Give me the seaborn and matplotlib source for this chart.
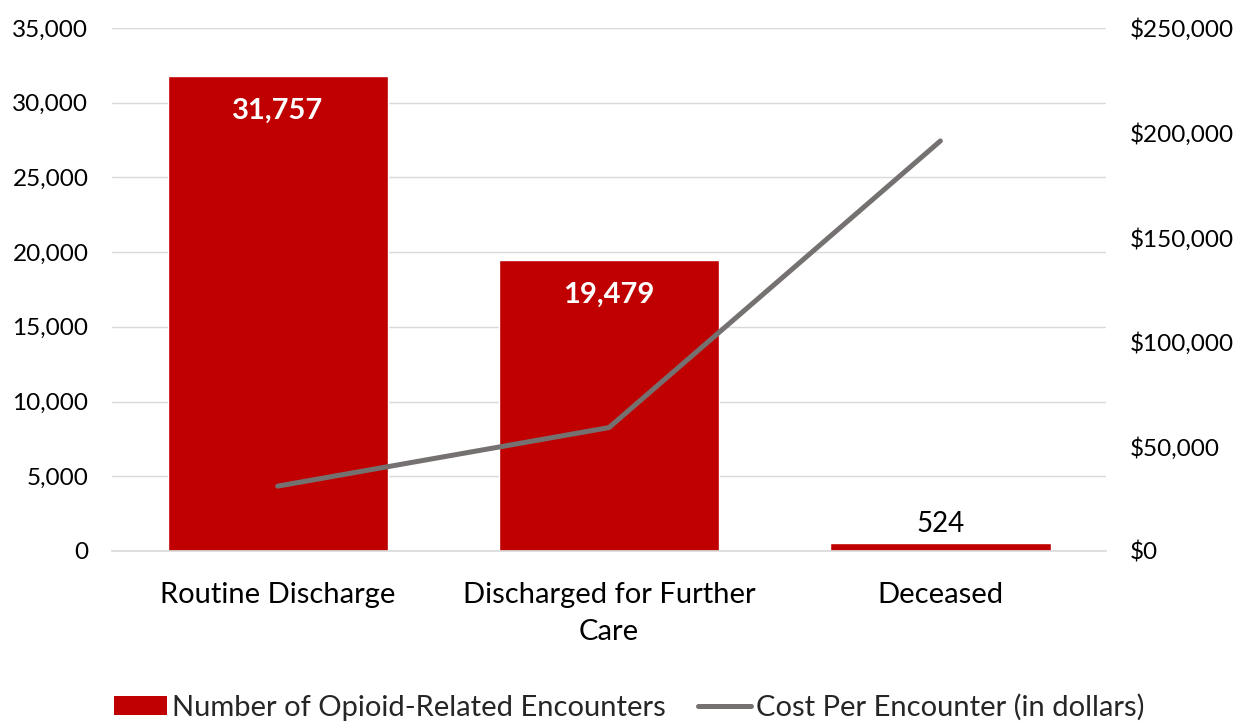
import matplotlib
matplotlib.use("Agg")
import matplotlib.pyplot as plt
import matplotlib.ticker as mticker
from matplotlib.patches import Patch
from matplotlib.lines import Line2D
import numpy as np
import pandas as pd
import seaborn as sns

sns.set_style("white")
plt.rcParams["font.family"] = ["Lato", "DejaVu Sans"]

# data
categories = ["Routine Discharge", "Discharged for Further\nCare", "Deceased"]
encounters = [31757, 19479, 524]
cost_per_encounter = [31000, 59000, 196000]
bar_labels = ["31,757", "19,479", "524"]

bar_color = "#C00000"
line_color = "#767171"

df = pd.DataFrame({"category": categories, "encounters": encounters,
                   "cost": cost_per_encounter, "pos": np.arange(len(categories))})

fig = plt.figure(figsize=(12.34, 7.21), dpi=100)
ax = fig.add_axes([0.0908, 0.2358, 0.8055, 0.7254])

sns.barplot(data=df, x="category", y="encounters", color=bar_color,
            saturation=1, width=0.665, ax=ax)
ax.set_xlim(-0.5, 2.5)
ax.set_ylim(0, 35000)
ax.yaxis.set_major_locator(mticker.MultipleLocator(5000))
ax.yaxis.set_major_formatter(mticker.StrMethodFormatter("{x:,.0f}"))
ax.grid(axis="y", color="#D9D9D9", linewidth=1)
ax.set_axisbelow(True)
ax.set_xlabel("")
ax.set_ylabel("")
for s in ["top", "left", "right"]:
    ax.spines[s].set_visible(False)
ax.spines["bottom"].set_color("#D9D9D9")
ax.spines["bottom"].set_linewidth(1.2)
ax.tick_params(axis="both", length=0, colors="black")
ax.tick_params(axis="x", pad=22, labelsize=21)
ax.tick_params(axis="y", pad=17, labelsize=17.5)
for t in ax.get_xticklabels():
    t.set_linespacing(1.55)

# data labels
for i, (v, lab) in enumerate(zip(encounters, bar_labels)):
    if v > 5000:
        ax.text(i, v - 1450, lab, ha="center", va="top", color="white",
                fontsize=21, fontweight="bold")
    else:
        ax.text(i, v + 400, lab, ha="center", va="bottom", color="black",
                fontsize=20)

ax2 = ax.twinx()
sns.lineplot(data=df, x="pos", y="cost", color=line_color, linewidth=3.6,
             ax=ax2, solid_capstyle="round", solid_joinstyle="round")
ax2.set_xlim(-0.5, 2.5)
ax2.set_ylim(0, 250000)
ax2.yaxis.set_major_locator(mticker.MultipleLocator(50000))
ax2.yaxis.set_major_formatter(mticker.StrMethodFormatter("${x:,.0f}"))
ax2.set_ylabel("")
ax2.set_xlabel("")
for s in ["top", "left", "right", "bottom"]:
    ax2.spines[s].set_visible(False)
ax2.tick_params(axis="y", length=0, labelsize=17.5, pad=17, colors="black")

handles = [Patch(facecolor=bar_color, edgecolor="none"),
           Line2D([0], [0], color=line_color, linewidth=3.6, solid_capstyle="round")]
fig.legend(handles, ["Number of Opioid-Related Encounters", "Cost Per Encounter (in dollars)"],
           loc="center", bbox_to_anchor=(0.51, 0.019), ncol=2, frameon=False,
           fontsize=21, handlelength=1.83, handleheight=0.6, handletextpad=0.17,
           columnspacing=1.1, borderpad=0.1)

fig.savefig("out.png", dpi=100)
